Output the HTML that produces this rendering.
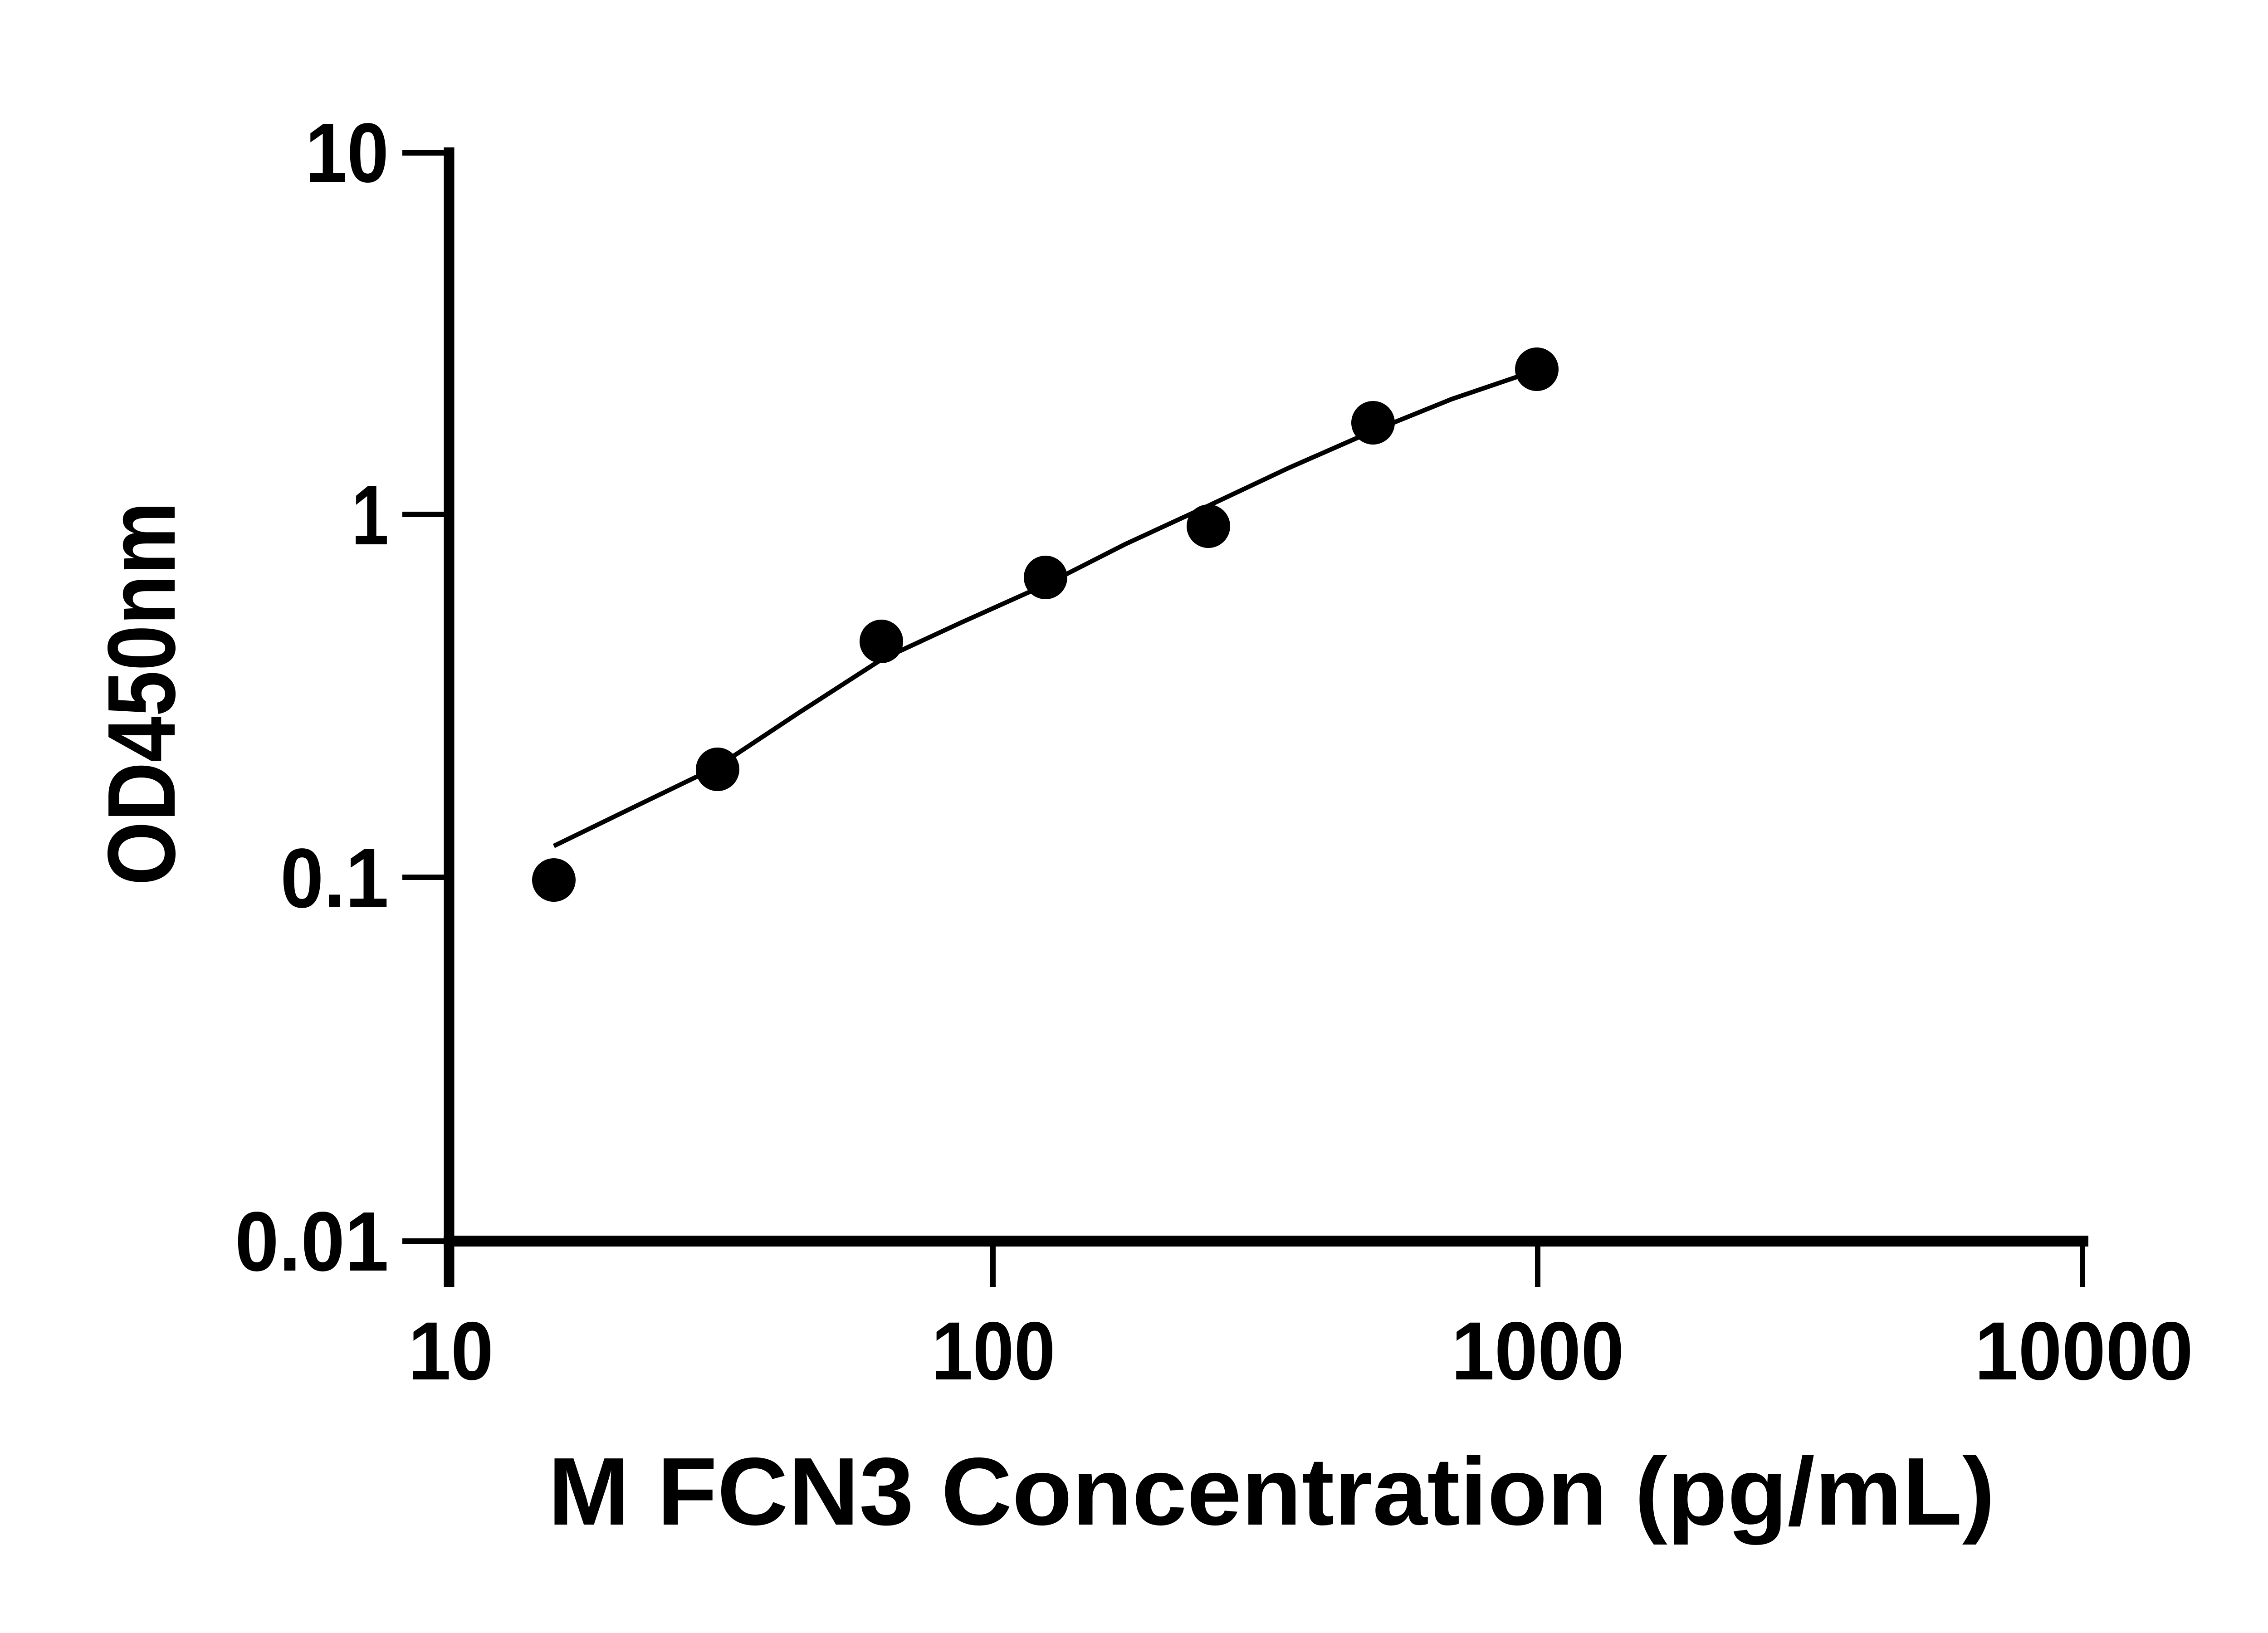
<!DOCTYPE html>
<html><head><meta charset="utf-8"><style>html,body{margin:0;padding:0;background:#fff}svg{display:block}</style></head>
<body>
<svg width="5142" height="3600" viewBox="0 0 5142 3600" xmlns="http://www.w3.org/2000/svg">
<rect width="5142" height="3600" fill="#fff"/>
<g stroke="#000" fill="none">
<line x1="990" y1="325" x2="990" y2="2837" stroke-width="23"/>
<line x1="978" y1="2736" x2="4604" y2="2736" stroke-width="24"/>
<g stroke-width="12">
<line x1="887" y1="337" x2="990" y2="337"/>
<line x1="887" y1="1134" x2="990" y2="1134"/>
<line x1="887" y1="1934" x2="990" y2="1934"/>
<line x1="887" y1="2736" x2="990" y2="2736"/>
<line x1="2189" y1="2736" x2="2189" y2="2837"/>
<line x1="3390" y1="2736" x2="3390" y2="2837"/>
<line x1="4591" y1="2736" x2="4591" y2="2837"/>
</g>
<polyline stroke-width="10" points="1221,1865 1400,1778 1582,1690 1760,1572 1943,1454 2120,1372 2305,1289 2480,1200 2664,1115 2840,1032 3027,950 3200,880 3388,816"/>
</g>
<g fill="#000">
<circle cx="1221" cy="1940" r="48"/>
<circle cx="1582" cy="1696" r="48"/>
<circle cx="1943" cy="1414" r="48"/>
<circle cx="2305" cy="1273" r="48"/>
<circle cx="2664" cy="1160" r="48"/>
<circle cx="3027" cy="932" r="48"/>
<circle cx="3388" cy="814" r="48"/>
</g>
<g font-family="Liberation Sans, sans-serif" font-weight="bold" font-size="186" text-anchor="end">
<text x="857" y="401" textLength="184" lengthAdjust="spacingAndGlyphs">10</text>
<text x="857" y="1200" textLength="82" lengthAdjust="spacingAndGlyphs">1</text>
<text x="857" y="2000" textLength="239" lengthAdjust="spacingAndGlyphs">0.1</text>
<text x="857" y="2801" textLength="339" lengthAdjust="spacingAndGlyphs">0.01</text>
</g>
<g font-family="Liberation Sans, sans-serif" font-weight="bold" font-size="182" text-anchor="middle">
<text x="994" y="3041" textLength="188" lengthAdjust="spacingAndGlyphs">10</text>
<text x="2190" y="3041" textLength="273" lengthAdjust="spacingAndGlyphs">100</text>
<text x="3390" y="3041" textLength="381" lengthAdjust="spacingAndGlyphs">1000</text>
<text x="4594" y="3041" textLength="482" lengthAdjust="spacingAndGlyphs">10000</text>
</g>
<text x="2803" y="3361" font-family="Liberation Sans, sans-serif" font-weight="bold" font-size="212" text-anchor="middle" textLength="3190" lengthAdjust="spacingAndGlyphs">M FCN3 Concentration (pg/mL)</text>
<text transform="translate(385,1529) rotate(-90)" x="0" y="0" font-family="Liberation Sans, sans-serif" font-weight="bold" font-size="212" text-anchor="middle" textLength="846" lengthAdjust="spacingAndGlyphs">OD450nm</text>
</svg>
</body></html>
